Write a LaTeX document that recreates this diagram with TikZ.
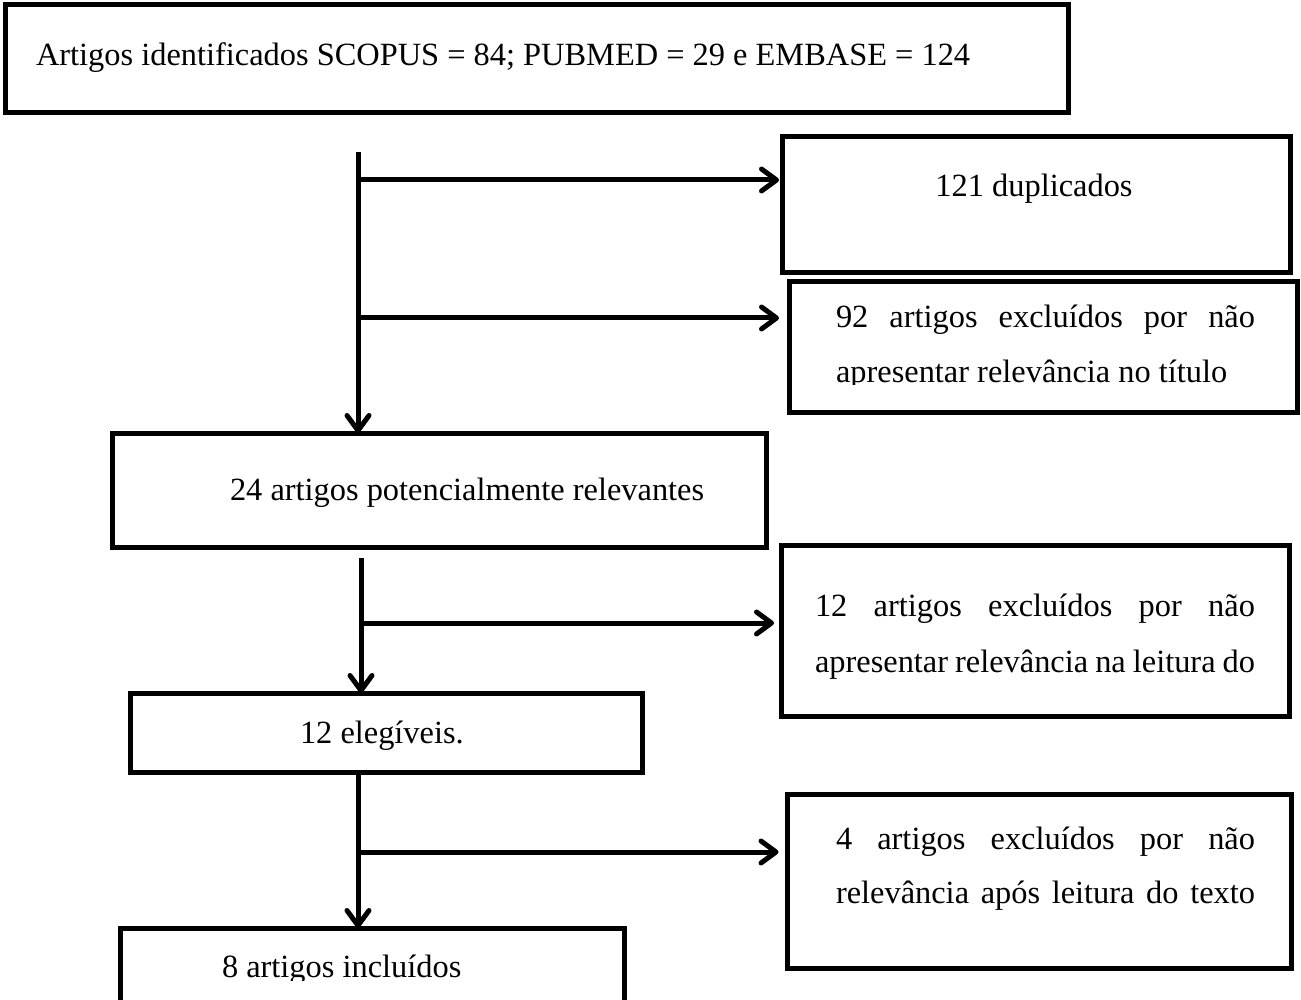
\documentclass[tikz,border=0pt]{standalone}
\usepackage{fontspec}
\setmainfont{Liberation Serif}
\usetikzlibrary{arrows.meta}
\begin{document}
\begin{tikzpicture}[x=0.5pt,y=-0.5pt,
  box/.style={draw, line width=2.5pt, rectangle, inner sep=0pt, outer sep=0pt},
  txt/.style={font=\fontsize{16.2}{20}\selectfont, inner sep=0pt, outer sep=0pt},
  flow/.style={line width=2.5pt, -{Straight Barb[length=7.5pt,width=11pt,round]}},
  link/.style={line width=2.5pt}]
\useasboundingbox (0,0) rectangle (1301,1000);
\clip (0,0) rectangle (1301,1000);

% boxes
\node[box, minimum width=531.5pt, minimum height=54pt] (top) at (536.5,59) {};
\node[box, minimum width=254pt, minimum height=68pt] (dup) at (1036,205) {};
\node[box, minimum width=254pt, minimum height=65pt] (b92) at (1043,347) {};
\node[box, minimum width=327pt, minimum height=57pt] (rel) at (439,490) {};
\node[box, minimum width=254pt, minimum height=85.5pt] (b12) at (1035,631) {};
\node[box, minimum width=256pt, minimum height=39.5pt] (eleg) at (386.5,732.5) {};
\node[box, minimum width=252pt, minimum height=87pt] (b4) at (1039.5,881) {};
\node[box, minimum width=252pt, minimum height=56pt] (incl) at (372,984) {};

% texts
\node[txt, anchor=base west] (ttop) at (36,66) {Artigos identificados SCOPUS = 84; PUBMED = 29 e EMBASE = 124};
\node[txt, anchor=base] (tdup) at (1034,197) {121 duplicados};
\node[txt, anchor=base west] (t92a) at (836,328) {\makebox[209.5pt][s]{92 artigos excluídos por não}};
\begin{scope}
  \clip (800,290) rectangle (1290,384);
  \node[txt, anchor=base west] (t92b) at (836,382) {apresentar relevância no título};
\end{scope}
\node[txt, anchor=base west] (trel) at (230,500) {24 artigos potencialmente relevantes};
\node[txt, anchor=base west] (t12a) at (815,616) {\makebox[220pt][s]{12 artigos excluídos por não}};
\node[txt, anchor=base west] (t12b) at (815,672) {\makebox[220pt][s]{apresentar relevância na leitura do}};
\node[txt, anchor=base west] (teleg) at (300,743) {12 elegíveis.};
\node[txt, anchor=base west] (t4a) at (836,849) {\makebox[209.5pt][s]{4 artigos excluídos por não}};
\node[txt, anchor=base west] (t4b) at (836,903) {\makebox[209.5pt][s]{relevância após leitura do texto}};
\begin{scope}
  \clip (130,940) rectangle (600,980);
  \node[txt, anchor=base west] (tincl) at (222,977) {8 artigos incluídos};
\end{scope}

% connectors
\coordinate (s1) at (358,152);
\coordinate (j1) at (358,180);
\coordinate (j2) at (358,318);
\draw[flow] (s1) -- (s1 |- rel.north);
\draw[flow, shorten >=1.5pt] (j1) -- (j1 -| dup.west);
\draw[flow, shorten >=5pt] (j2) -- (j2 -| b92.west);

\coordinate (s2) at (361,558);
\coordinate (j3) at (361,623);
\draw[flow] (s2) -- (s2 |- eleg.north);
\draw[flow, shorten >=3.5pt] (j3) -- (j3 -| b12.west);

\coordinate (s3) at (358,770);
\coordinate (j4) at (358,852);
\draw[flow] (s3 |- eleg.south) -- (s3 |- incl.north);
\draw[flow, shorten >=4.5pt] (j4) -- (j4 -| b4.west);
\end{tikzpicture}
\end{document}
